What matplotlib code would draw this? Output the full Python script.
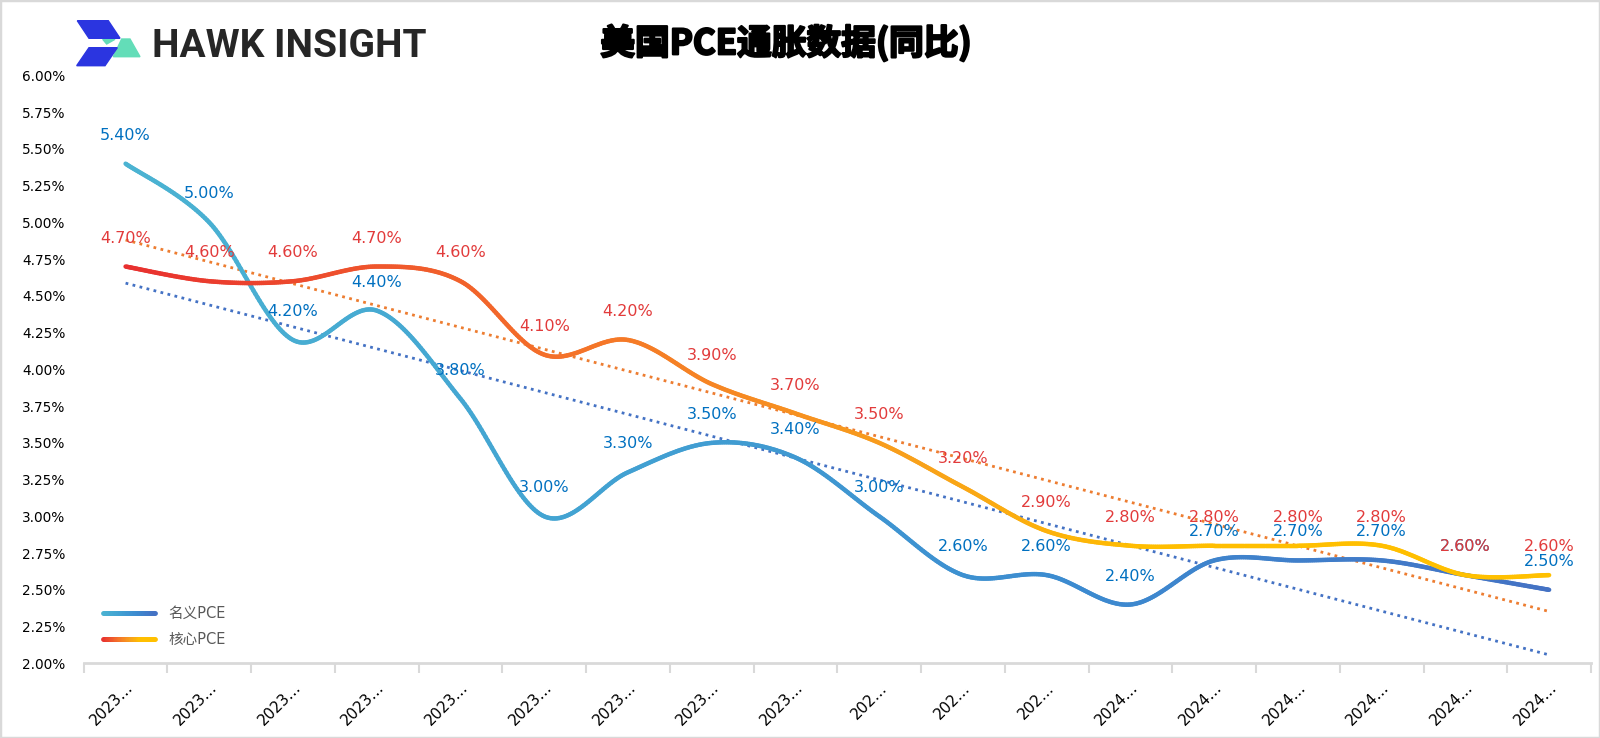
import numpy as np
import matplotlib
matplotlib.use("Agg")
import matplotlib.pyplot as plt
import matplotlib.patheffects as pe
from matplotlib.collections import LineCollection
from matplotlib.colors import LinearSegmentedColormap
from matplotlib.legend_handler import HandlerBase
from matplotlib.lines import Line2D
from matplotlib.patches import Polygon, Rectangle

# ---------------- data ----------------
categories = ["2023…"] * 9 + ["202…"] * 3 + ["2024…"] * 6
nominal_pce = [5.40, 5.00, 4.20, 4.40, 3.80, 3.00, 3.30, 3.50, 3.40,
               3.00, 2.60, 2.60, 2.40, 2.70, 2.70, 2.70, 2.60, 2.50]
core_pce = [4.70, 4.60, 4.60, 4.70, 4.60, 4.10, 4.20, 3.90, 3.70,
            3.50, 3.20, 2.90, 2.80, 2.80, 2.80, 2.80, 2.60, 2.60]
series_names = ["名义PCE", "核心PCE"]
title = "美国PCE通胀数据(同比)"
yticks = [2.00, 2.25, 2.50, 2.75, 3.00, 3.25, 3.50, 3.75, 4.00,
          4.25, 4.50, 4.75, 5.00, 5.25, 5.50, 5.75, 6.00]

plt.rcParams['font.family'] = ['DejaVu Sans', 'Noto Sans CJK SC']

W, H = 1600, 738
fig = plt.figure(figsize=(W / 100, H / 100), dpi=100)
ax = fig.add_axes([83.7 / W, 1 - 663.3 / H, (1591 - 83.7) / W, (663.3 - 75.5) / H])

cmap_nom = LinearSegmentedColormap.from_list(
    "nom", ["#4BB3D2", "#42A2D2", "#3C8BD0", "#4472C4"])
cmap_core = LinearSegmentedColormap.from_list(
    "core", [(0, "#E8302F"), (0.3, "#F4702A"), (0.55, "#F8A01C"),
             (0.72, "#FFBE00"), (1, "#FFC000")])


def smooth(x, y, n=40):
    pts = np.column_stack([x, y]).astype(float)
    P = np.vstack([pts[0], pts, pts[-1]])
    out = []
    t = np.linspace(0, 1, n, endpoint=False)[:, None]
    for i in range(len(pts) - 1):
        p0, p1, p2, p3 = P[i], P[i + 1], P[i + 2], P[i + 3]
        seg = 0.5 * ((2 * p1) + (-p0 + p2) * t
                     + (2 * p0 - 5 * p1 + 4 * p2 - p3) * t ** 2
                     + (-p0 + 3 * p1 - 3 * p2 + p3) * t ** 3)
        out.append(seg)
    out.append(pts[-1:])
    return np.vstack(out)


def grad_line(ax, x, y, cmap, lw=3.2, z=3):
    s = smooth(x, y)
    pts = s.reshape(-1, 1, 2)
    segs = np.concatenate([pts[:-1], pts[1:]], axis=1)
    lc = LineCollection(segs, cmap=cmap, linewidths=lw, capstyle='round',
                        joinstyle='round', zorder=z)
    lc.set_array((s[:-1, 0] - s[0, 0]) / (s[-1, 0] - s[0, 0]))
    lc.set_clim(0, 1)
    ax.add_collection(lc)


x = np.arange(len(categories))

# trend lines
for vals, col in [(nominal_pce, "#4472C4"), (core_pce, "#ED7D31")]:
    k, b = np.polyfit(x, vals, 1)
    ax.plot([x[0], x[-1]], [k * x[0] + b, k * x[-1] + b], linestyle=(0, (1, 1.6)),
            color=col, lw=2, zorder=2)

grad_line(ax, x, nominal_pce, cmap_nom, z=3)
grad_line(ax, x, core_pce, cmap_core, z=4)

for xi, v in zip(x, nominal_pce):
    ax.annotate(f"{v:.2f}%", (xi, v), xytext=(0, 20.5), textcoords='offset points',
                ha='center', va='center', fontsize=11.5, color="#0070C0", zorder=6)
for xi, v in zip(x, core_pce):
    ax.annotate(f"{v:.2f}%", (xi, v), xytext=(0, 20.5), textcoords='offset points',
                ha='center', va='center', fontsize=11.5, color="#E23B3B", zorder=7)

ax.set_xlim(-0.5, len(categories) - 0.5)
ax.set_ylim(2.0, 6.0)
ax.set_yticks(yticks)
ax.set_yticklabels([f"{v:.2f}%" for v in yticks], fontsize=9.8)
ax.tick_params(axis='y', length=0, pad=13)

ax.set_xticks(np.arange(-0.5, len(categories)), minor=False)
ax.set_xticklabels([])
ax.set_xticks(x, minor=True)
ax.set_xticklabels(categories, minor=True, rotation=45, ha='right', va='top',
                   rotation_mode='anchor', fontsize=11)
ax.tick_params(axis='x', which='major', length=7, width=1.5, color="#D9D9D9", direction='out')
ax.tick_params(axis='x', which='minor', length=0, pad=12)

for sp in ['top', 'right', 'left']:
    ax.spines[sp].set_visible(False)
ax.spines['bottom'].set_color("#D9D9D9")
ax.spines['bottom'].set_linewidth(2)


class GradientHandler(HandlerBase):
    def __init__(self, cmap, **kw):
        super().__init__(**kw)
        self.cmap = cmap

    def create_artists(self, legend, orig_handle, xdescent, ydescent, width,
                       height, fontsize, trans):
        xs = np.linspace(-xdescent, width - xdescent, 40)
        ys = np.full_like(xs, height / 2 - ydescent)
        pts = np.column_stack([xs, ys]).reshape(-1, 1, 2)
        segs = np.concatenate([pts[:-1], pts[1:]], axis=1)
        lc = LineCollection(segs, cmap=self.cmap, transform=trans,
                            linewidths=3.5, capstyle='round')
        lc.set_array(np.linspace(0, 1, len(segs)))
        lc.set_clim(0, 1)
        return [lc]


h1 = Line2D([], [], color="#4472C4")
h2 = Line2D([], [], color="#ED7D31")
leg = ax.legend([h1, h2], series_names, loc='lower left', bbox_to_anchor=(0.004, 0.005),
                frameon=False, fontsize=10.5, handlelength=3.6, labelspacing=0.75,
                handletextpad=0.9,
                handler_map={h1: GradientHandler(cmap_nom), h2: GradientHandler(cmap_core)})
for t in leg.get_texts():
    t.set_color("#595959")

# title
fig.text(786 / W, 1 - 43 / H, title, ha='center', va='center', fontsize=25,
         fontweight='bold', family=['Noto Sans CJK SC'], color='black',
         path_effects=[pe.withStroke(linewidth=1.6, foreground='black')])

# logo
def P(px, py):
    return (px / W, 1 - py / H)

teal = "#63DDB8"
blue = "#2B35E0"
fig.patches.append(Polygon([P(121.7, 39), P(130, 39), P(140, 56.7), P(113.3, 56.7)],
                           closed=True, transform=fig.transFigure, color=teal, zorder=1))
fig.patches.append(Polygon([P(102.7, 39.3), P(115, 39.3), P(106.7, 44)],
                           closed=True, transform=fig.transFigure, color=teal, zorder=1))
fig.patches.append(Polygon([P(77.3, 20.7), P(108.3, 20.7), P(120, 38.3), P(89, 38.3)],
                           closed=True, transform=fig.transFigure, color=blue, zorder=2))
fig.patches.append(Polygon([P(89, 47.7), P(117.3, 47.7), P(105, 65.7), P(76.7, 65.7)],
                           closed=True, transform=fig.transFigure, color=blue, zorder=2))
fig.text(151.7 / W, 1 - 56.7 / H, "HAWK INSIGHT", ha='left', va='baseline',
         fontsize=28, fontweight='bold', family=['Roboto'], color="#262626")

# figure border
fig.patches.append(Rectangle((0, 0), 1, 1, transform=fig.transFigure, fill=False,
                             edgecolor="#D9D9D9", lw=2.5))

fig.savefig("out.png", dpi=100)
